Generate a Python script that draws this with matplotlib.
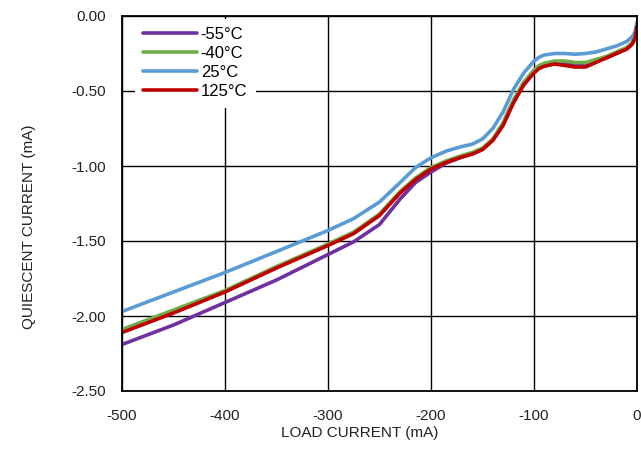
import numpy as np
import matplotlib.pyplot as plt

plt.rcParams['font.family'] = ['Liberation Sans', 'DejaVu Sans']
plt.rcParams['axes.unicode_minus'] = False

# load current (mA)
load = [-500, -450, -400, -350, -300, -275, -250, -230, -215, -200, -185, -170, -160, -150,
        -140, -130, -120, -110, -100, -95, -90, -80, -70, -60, -50, -40, -30, -20, -10, -5, -2, 0]

# quiescent current (mA) per temperature
iq_m55 = [-2.19, -2.06, -1.91, -1.76, -1.59, -1.505, -1.39, -1.22, -1.11, -1.04, -0.98, -0.94, -0.92, -0.89,
          -0.825, -0.72, -0.57, -0.45, -0.37, -0.34, -0.325, -0.31, -0.315, -0.32, -0.32, -0.30, -0.28, -0.25,
          -0.22, -0.19, -0.15, -0.07]
iq_m40 = [-2.09, -1.96, -1.83, -1.67, -1.52, -1.44, -1.32, -1.17, -1.08, -1.01, -0.965, -0.93, -0.91, -0.88,
          -0.82, -0.71, -0.56, -0.44, -0.36, -0.33, -0.315, -0.30, -0.30, -0.31, -0.31, -0.29, -0.27, -0.24,
          -0.21, -0.18, -0.14, -0.06]
iq_25 = [-1.97, -1.84, -1.71, -1.57, -1.43, -1.35, -1.24, -1.11, -1.01, -0.945, -0.90, -0.87, -0.855, -0.82,
         -0.75, -0.64, -0.49, -0.38, -0.30, -0.275, -0.26, -0.25, -0.25, -0.255, -0.25, -0.24, -0.22, -0.20,
         -0.17, -0.14, -0.11, -0.04]
iq_125 = [-2.11, -1.98, -1.84, -1.68, -1.53, -1.45, -1.33, -1.18, -1.09, -1.02, -0.975, -0.94, -0.92, -0.89,
          -0.83, -0.73, -0.58, -0.46, -0.38, -0.35, -0.335, -0.32, -0.33, -0.34, -0.34, -0.31, -0.28, -0.25,
          -0.22, -0.19, -0.15, -0.07]

series = [(iq_m55, '-55°C', '#7030A0'),
          (iq_m40, '-40°C', '#70AD47'),
          (iq_25, '25°C', '#5B9BD5'),
          (iq_125, '125°C', '#C00000')]

fig = plt.figure(figsize=(6.41, 4.51), dpi=100)
ax = fig.add_axes([122/641, 1 - 391/451, 515/641, 375/451])

for ys, name, col in series:
    ax.plot(load, ys, color=col, lw=2.6, label=name, solid_capstyle='round')

ax.set_xlim(-500, 0)
ax.set_ylim(-2.5, 0)
ax.set_xticks(np.arange(-500, 1, 100))
ax.set_yticks(np.arange(-2.5, 0.01, 0.5))
ax.set_yticklabels(['%.2f' % v for v in np.arange(-2.5, 0.01, 0.5)])
ax.grid(color='black', lw=1.0)
ax.set_axisbelow(True)
ax.tick_params(length=0, labelsize=11, colors='#222222')
ax.tick_params(axis='y', pad=11.5)
ax.tick_params(axis='x', pad=13)
for s in ax.spines.values():
    s.set_color('black')
    s.set_linewidth(1.3)

ax.set_xlabel('LOAD CURRENT (mA)', fontsize=11, color='#222222')
ax.set_ylabel('QUIESCENT CURRENT (mA)', fontsize=11, color='#222222')
ax.xaxis.set_label_coords(0.462, -0.093)
ax.yaxis.set_label_coords(-0.167, 0.437)

leg = ax.legend(loc='upper left', bbox_to_anchor=(0.025, 0.992), borderaxespad=0, frameon=True,
                fontsize=12, handlelength=3.25, handletextpad=0.2, labelspacing=0.24, borderpad=0.5)
leg.get_frame().set_edgecolor('none')
leg.get_frame().set_facecolor('white')
leg.get_frame().set_alpha(1)

fig.savefig('out.png', dpi=100)
